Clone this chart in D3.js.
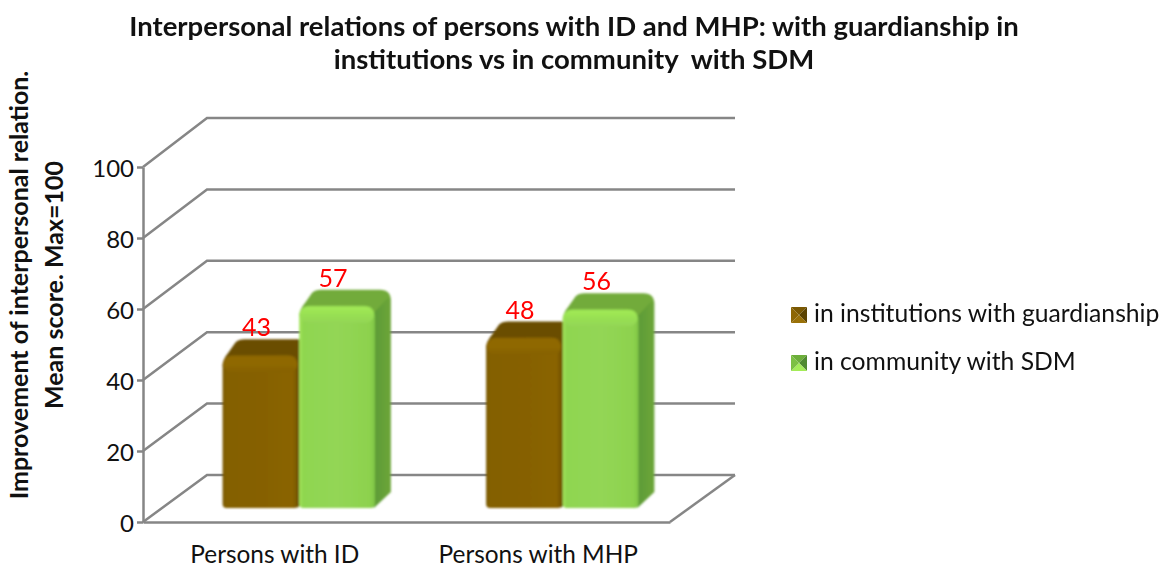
<!DOCTYPE html>
<html>
<head>
<meta charset="utf-8">
<script src="https://cdn.jsdelivr.net/npm/d3@7"></script>
<style>
body { margin: 0; background: #fff; }
text { font-family: Lato, "Open Sans", sans-serif; fill: #111; white-space: pre; }
.domain, .tick line, .grid { stroke: #868686; stroke-width: 2.5; fill: none; }
</style>
</head>
<body>
<div id="chart"></div>
<script>
var categories = ["Persons with ID", "Persons with MHP"];
var seriesNames = ["in institutions with guardianship", "in community with SDM"];
var guardianship = [43, 48];
var community = [57, 56];
var yTicks = [0, 20, 40, 60, 80, 100];
var titleLines = ["Interpersonal relations of persons with ID and MHP: with guardianship in",
    "institutions vs in community  with SDM"];
var yTitleLines = ["Improvement of interpersonal relation.", "Mean score. Max=100"];

var width = 1170, height = 568;
var barDepth = 16;

var svg = d3.select("#chart").append("svg")
    .attr("width", width)
    .attr("height", height)
    .attr("viewBox", "0 0 1170 568")
    .style("display", "block");

var y = d3.scaleLinear().domain([0, 100]).range([522, 167]);
var yWall = d3.scaleLinear().domain([0, 100]).range([475, 118]);
var x0 = d3.scaleBand().domain(categories).range([143, 670]);
var yBar = d3.scaleLinear().domain([0, 100]).range([508, 153]);
var x0Bar = d3.scaleBand().domain(categories).range([167, 694]).paddingInner(0.422).paddingOuter(0.211);
var x1 = d3.scaleBand().domain(seriesNames).range([0, x0Bar.bandwidth()]).paddingInner(0.01);

var defs = svg.append("defs");
defs.append("filter").attr("id", "soft").append("feGaussianBlur").attr("stdDeviation", 0.8);

function gradient(id, horizontal, stops) {
    var g = defs.append("linearGradient").attr("id", id)
        .attr("x1", 0).attr("y1", 0)
        .attr("x2", horizontal ? 1 : 0).attr("y2", horizontal ? 0 : 1);
    stops.forEach(function (s) {
        g.append("stop").attr("offset", s[0]).attr("stop-color", s[1]);
    });
}
gradient("brownFront", true, [[0, "#7a5802"], [0.05, "#846002"], [0.5, "#866100"], [0.93, "#8a6400"], [1, "#6f5002"]]);
gradient("greenFront", true, [[0, "#a6e85c"], [0.05, "#8fd650"], [0.5, "#93d655"], [0.93, "#8dd24e"], [1, "#80c646"]]);
gradient("brownCap", false, [[0, "#8f6802"], [0.5, "#8f6802"], [1, "#866100"]]);
gradient("greenCap", false, [[0, "#a2ea55"], [0.5, "#98e052"], [1, "#93d655"]]);
gradient("brownSide", true, [[0, "#6b4e02"], [1, "#5f4502"]]);
gradient("greenSide", true, [[0, "#5b9a36"], [1, "#6da63a"]]);
var palette = {};
palette[seriesNames[0]] = { front: "url(#brownFront)", cap: "url(#brownCap)", top: "#6b4e02", side: "url(#brownSide)", mark: ["#7a5802", "#5b4302", "#9a7108", "#8d6604"] };
palette[seriesNames[1]] = { front: "url(#greenFront)", cap: "url(#greenCap)", top: "#72ab3a", side: "url(#greenSide)", mark: ["#6cae3a", "#4f8a30", "#a4ec58", "#7cc043"] };

// back wall gridlines with their slanted returns to the axis
var grid = svg.append("g");
yTicks.forEach(function (v) {
    grid.append("path").attr("class", "grid")
        .attr("d", d3.line()([[143, y(v)], [207, yWall(v)], [735, yWall(v)]]));
});
grid.append("path").attr("class", "grid")
    .attr("d", d3.line()([[670, y(0)], [735, yWall(0)]]));

var yAxis = svg.append("g")
    .attr("transform", "translate(143,0)")
    .call(d3.axisLeft(y).tickValues(yTicks).tickSize(6).tickSizeOuter(0).tickPadding(3));
yAxis.selectAll("text").attr("font-size", 24).attr("dy", "0.4em");

var xAxis = svg.append("g")
    .attr("transform", "translate(0," + y(0) + ")")
    .call(d3.axisBottom(x0).tickSize(0).tickPadding(24));
xAxis.selectAll("text").attr("font-size", 24.4);

// bars
var rows = [];
categories.forEach(function (c, i) {
    rows.push({ cat: c, name: seriesNames[0], value: guardianship[i] });
    rows.push({ cat: c, name: seriesNames[1], value: community[i] });
});

var bar = svg.append("g").attr("filter", "url(#soft)")
    .selectAll("g")
    .data(rows)
    .enter().append("g")
    .attr("transform", function (d) { return "translate(" + (x0Bar(d.cat) + x1(d.name)) + ",0)"; });

var bw = x1.bandwidth();
var r = 11;

bar.append("path")
    .attr("fill", function (d) { return palette[d.name].top; })
    .attr("d", function (d) {
        var t = yBar(d.value);
        return "M0," + (t + r) + "Q0," + (t + 4) + " 6," + (t - 3) +
            "L" + (barDepth - 3) + "," + (t - barDepth + 3) + "Q" + barDepth + "," + (t - barDepth) + " " + (barDepth + 6) + "," + (t - barDepth) +
            "L" + (bw + barDepth - r) + "," + (t - barDepth) +
            "Q" + (bw + barDepth) + "," + (t - barDepth) + " " + (bw + barDepth) + "," + (t - barDepth + r) +
            "L" + bw + "," + (t + r) + "Z";
    });

bar.append("path")
    .attr("fill", function (d) { return palette[d.name].side; })
    .attr("d", function (d) {
        var t = yBar(d.value), b = yBar(0);
        return "M" + (bw - 2) + "," + (t + 8) + "L" + (bw + barDepth - 3) + "," + (t - barDepth + 8) +
            "Q" + (bw + barDepth) + "," + (t - barDepth + 8) + " " + (bw + barDepth) + "," + (t - barDepth + r + 2) +
            "L" + (bw + barDepth) + "," + (b - barDepth) +
            "L" + (bw - 1) + "," + b + "Z";
    });

bar.append("path")
    .attr("fill", function (d) { return palette[d.name].front; })
    .attr("d", function (d) {
        var t = yBar(d.value), b = yBar(0);
        return "M0," + (t + r) + "Q0," + t + " " + r + "," + t + "L" + (bw - r) + "," + t +
            "Q" + bw + "," + t + " " + bw + "," + (t + r) + "L" + bw + "," + (b - 4) +
            "Q" + bw + "," + b + " " + (bw - 4) + "," + b + "L4," + b + "Q0," + b + " 0," + (b - 4) + "Z";
    });

bar.append("rect")
    .attr("x", 1).attr("width", bw - 2)
    .attr("y", function (d) { return yBar(d.value) + 1; })
    .attr("height", 16).attr("rx", 8)
    .attr("fill", function (d) { return palette[d.name].cap; });

// labels sit just above the back edge of the top face
svg.append("g").selectAll("text")
    .data(rows)
    .enter().append("text")
    .attr("x", function (d) { return x0Bar(d.cat) + x1(d.name) + bw / 2 - 4; })
    .attr("y", function (d) { return yBar(d.value) - barDepth - 3; })
    .attr("text-anchor", "middle")
    .attr("font-size", 25)
    .style("fill", "#ff0000")
    .text(function (d) { return d.value; });

// title
svg.append("g").selectAll("text")
    .data(titleLines)
    .enter().append("text")
    .attr("x", 574)
    .attr("y", function (d, i) { return 36 + i * 33; })
    .attr("text-anchor", "middle")
    .attr("font-size", 27.5)
    .attr("font-weight", "bold")
    .text(function (d) { return d; });

// y axis title
svg.append("g").attr("transform", "translate(0,285)").selectAll("text")
    .data(yTitleLines)
    .enter().append("text")
    .attr("transform", function (d, i) { return "translate(" + (28 + i * 35) + ",0) rotate(-90)"; })
    .attr("text-anchor", "middle")
    .attr("font-size", 25)
    .attr("font-weight", "bold")
    .text(function (d) { return d; });

// legend
var legend = svg.append("g").selectAll("g")
    .data(seriesNames)
    .enter().append("g")
    .attr("transform", function (d, i) { return "translate(791," + (307 + i * 48) + ")"; });

var s = 16;
[
    [[0, 0], [s, 0], [s / 2, s / 2]],
    [[s, 0], [s, s], [s / 2, s / 2]],
    [[0, s], [s, s], [s / 2, s / 2]],
    [[0, 0], [0, s], [s / 2, s / 2]]
].forEach(function (tri, k) {
    legend.append("path")
        .attr("d", d3.line().curve(d3.curveLinearClosed)(tri))
        .attr("fill", function (d) { return palette[d].mark[k]; });
});

legend.append("text")
    .attr("x", 23)
    .attr("y", 15)
    .attr("font-size", 24.7)
    .text(function (d) { return d; });
</script>
</body>
</html>
